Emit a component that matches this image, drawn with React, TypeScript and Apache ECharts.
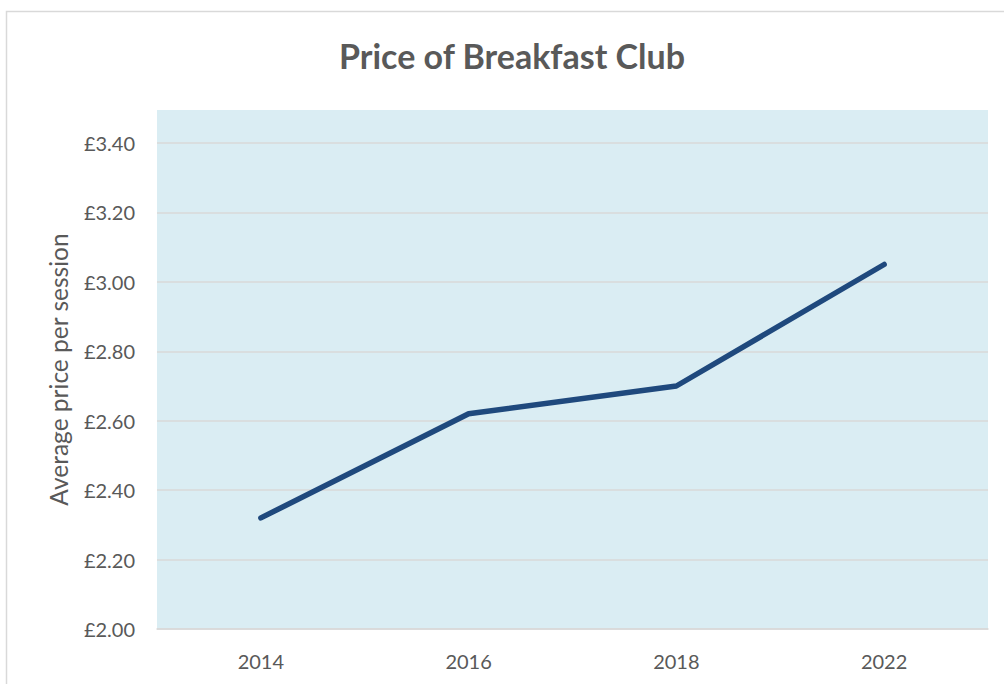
import React, { useEffect, useRef } from "react";
import * as echarts from "echarts";

const years = ["2014", "2016", "2018", "2022"];
const prices = [2.32, 2.62, 2.7, 3.05];
const titleText = "Price of Breakfast Club";
const yAxisTitle = "Average price per session";

export default function App() {
  const ref = useRef<HTMLDivElement>(null);
  useEffect(() => {
    if (!ref.current) return;
    const chart = echarts.init(ref.current, undefined, { renderer: "svg" });
    const font = "Lato, 'Open Sans', sans-serif";
    chart.setOption({
      animation: false,
      backgroundColor: "#ffffff",
      title: {
        text: titleText,
        left: 334,
        top: 33,
        textStyle: { fontFamily: font, fontWeight: "bold", fontSize: 34, color: "#595959" },
      },
      graphic: [
        {
          type: "rect",
          z: -10,
          shape: { x: 6.5, y: 11.5, width: 1020, height: 700 },
          style: { fill: "#ffffff", stroke: "#d9d9d9", lineWidth: 1.5 },
        },
        {
          type: "rect",
          z: -5,
          shape: { x: 157, y: 110, width: 831, height: 519 },
          style: { fill: "#DAEDF3" },
        },
      ],
      grid: { left: 157, right: 16, top: 143, bottom: 55 },
      xAxis: {
        type: "category",
        data: years,
        boundaryGap: true,
        axisLine: { show: true, lineStyle: { color: "#d9d9d9", width: 1.5 } },
        axisTick: { show: false },
        axisLabel: { fontFamily: font, fontSize: 20, color: "#595959", margin: 22 },
      },
      yAxis: {
        type: "value",
        min: 2,
        max: 3.4,
        interval: 0.2,
        name: yAxisTitle,
        nameLocation: "middle",
        nameGap: 86,
        nameRotate: 90,
        nameTextStyle: { fontFamily: font, fontSize: 24.5, color: "#595959", padding: [0, 0, 0, 33] },
        axisLine: { show: false },
        axisTick: { show: false },
        axisLabel: {
          fontFamily: font,
          fontSize: 20,
          color: "#595959",
          margin: 22,
          formatter: (v: number) => "£" + v.toFixed(2),
        },
        splitLine: { show: true, lineStyle: { color: "#d9d9d9", width: 1.5 } },
      },
      series: [
        {
          type: "line",
          data: prices,
          symbol: "none",
          lineStyle: { color: "#1F497D", width: 5.5, cap: "round" },
        },
      ],
    });
    return () => chart.dispose();
  }, []);
  return (
    <div
      ref={ref}
      style={{ position: "fixed", left: 0, top: 0, width: 1004, height: 684 }}
    />
  );
}
